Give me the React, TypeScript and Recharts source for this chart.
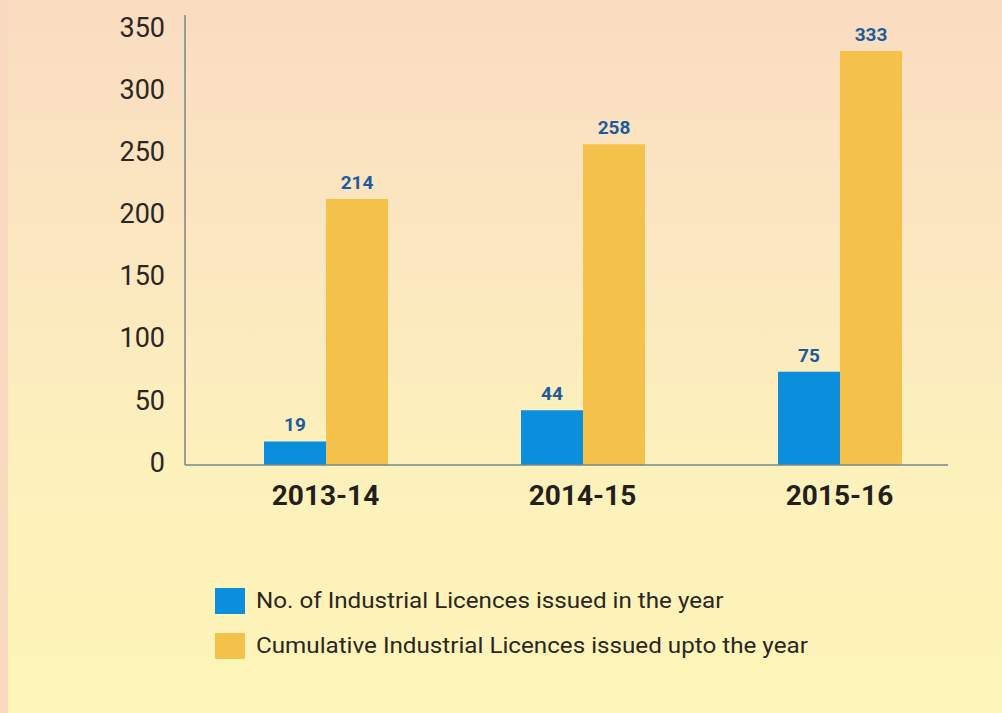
import { Bar, BarChart, LabelList, XAxis, YAxis } from 'recharts';

const years = ['2013-14', '2014-15', '2015-16'];
const issuedInYear = [19, 44, 75];
const cumulativeIssued = [214, 258, 333];
const yTicks = [0, 50, 100, 150, 200, 250, 300, 350];

const seriesNames = {
  issued: 'No. of Industrial Licences issued in the year',
  cumulative: 'Cumulative Industrial Licences issued upto the year',
};

const data = years.map((year, i) => ({
  year,
  issued: issuedInYear[i],
  cumulative: cumulativeIssued[i],
}));

const BLUE = '#0b8edb';
const ORANGE = '#f4c24b';
const FONT = 'Roboto, "Noto Sans", sans-serif';

function YTick({ x, y, payload }: any) {
  return (
    <text x={x} y={y - 3} dy="0.36em" textAnchor="end" fontSize={27} fill="#2b2622" fontFamily={FONT}>
      {payload.value}
    </text>
  );
}

function XTick({ x, y, payload }: any) {
  return (
    <text x={x} y={y + 22} dy="0.36em" textAnchor="middle" fontSize={28} fontWeight={700} fill="#231f1c" fontFamily={FONT}>
      {payload.value}
    </text>
  );
}

function LegendRow({ color, label }: { color: string; label: string }) {
  return (
    <div style={{ display: 'flex', alignItems: 'center', height: 45 }}>
      <span style={{ width: 30, height: 26, background: color, marginRight: 11, flexShrink: 0 }} />
      <span
        style={{
          fontSize: 22,
          color: '#2b2622',
          whiteSpace: 'nowrap',
          display: 'inline-block',
          transform: 'scaleX(1.1)',
          transformOrigin: 'left center',
        }}
      >
        {label}
      </span>
    </div>
  );
}

export default function App() {
  return (
    <div
      style={{
        position: 'fixed',
        left: 0,
        top: 0,
        width: 1002,
        height: 713,
        background: '#f9d9c0',
        fontFamily: FONT,
        overflow: 'hidden',
      }}
    >
      <div
        style={{
          position: 'absolute',
          left: 8,
          top: 0,
          right: 0,
          bottom: 0,
          background: 'linear-gradient(180deg, #fadcc1 0%, #fbe7c0 35%, #fdf2bb 70%, #fef5b8 100%)',
        }}
      />
      <div style={{ position: 'absolute', left: 0, top: 0 }}>
        <BarChart
          width={1002}
          height={713}
          data={data}
          margin={{ top: 15, right: 54, bottom: 188, left: 0 }}
          barGap={0}
        >
          <YAxis
            width={185}
            domain={[0, 362]}
            ticks={yTicks}
            interval={0}
            tickLine={false}
            tickSize={0}
            tickMargin={20}
            axisLine={{ stroke: '#74888a', strokeWidth: 1.5 }}
            tick={<YTick />}
          />
          <XAxis
            dataKey="year"
            height={60}
            padding={{ left: 12, right: -20 }}
            tickLine={false}
            axisLine={{ stroke: '#74888a', strokeWidth: 1.5 }}
            tick={<XTick />}
          />
          <Bar dataKey="issued" name={seriesNames.issued} fill={BLUE} barSize={62} isAnimationActive={false}>
            <LabelList dataKey="issued" position="top" offset={10} fill="#1d5c9c" fontSize={19} fontWeight={700} fontFamily={FONT} />
          </Bar>
          <Bar dataKey="cumulative" name={seriesNames.cumulative} fill={ORANGE} barSize={62} isAnimationActive={false}>
            <LabelList dataKey="cumulative" position="top" offset={10} fill="#1d5c9c" fontSize={19} fontWeight={700} fontFamily={FONT} />
          </Bar>
        </BarChart>
      </div>
      <div style={{ position: 'absolute', left: 215, top: 578 }}>
        <LegendRow color={BLUE} label={seriesNames.issued} />
        <LegendRow color={ORANGE} label={seriesNames.cumulative} />
      </div>
    </div>
  );
}
